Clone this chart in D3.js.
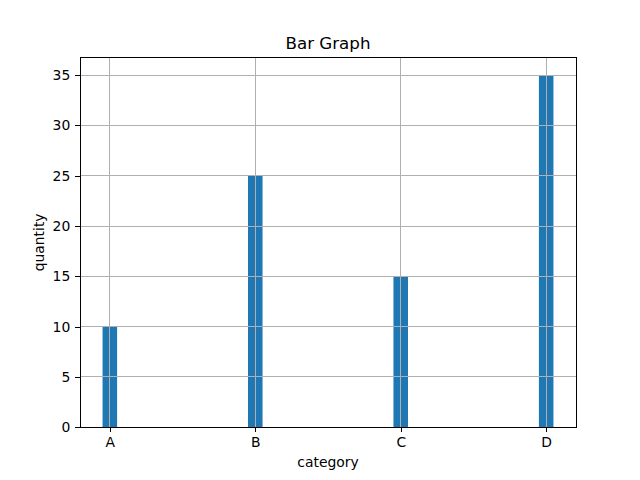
<!DOCTYPE html>
<html>
<head>
<meta charset="utf-8">
<script src="https://cdn.jsdelivr.net/npm/d3@7"></script>
<style>
  body { margin: 0; background: #fff; }
  text { font-family: "DejaVu Sans", sans-serif; fill: #000; }
</style>
</head>
<body>
<svg id="chart" width="640" height="480"></svg>
<script>
var categories = ["A", "B", "C", "D"];
var quantities = [10, 25, 15, 35];
var yTicks = [0, 5, 10, 15, 20, 25, 30, 35];

var svg = d3.select("svg#chart"),
	axLeft = 80, axRight = 576, axTop = 57.6, axBottom = 427.2;

var barW = 0.1;
var span = 3 + barW;
var x = d3.scaleLinear()
	.domain([-barW / 2 - span * 0.05, 3 + barW / 2 + span * 0.05])
	.range([axLeft, axRight]);
var y = d3.scaleLinear()
	.domain([0, 35 * 1.05])
	.range([axBottom, axTop]);

// bars
svg.append("g")
	.selectAll("rect")
	.data(quantities)
	.enter().append("rect")
	  .attr("x", function(d, i) { return x(i - barW / 2); })
	  .attr("y", function(d) { return y(d); })
	  .attr("width", function() { return x(barW) - x(0); })
	  .attr("height", function(d) { return y(0) - y(d); })
	  .attr("fill", "#1f77b4");

// grid on top of bars
var grid = svg.append("g").attr("stroke", "#b0b0b0").attr("stroke-width", 1)
	.attr("shape-rendering", "crispEdges");
grid.selectAll("line.gx")
	.data(categories)
	.enter().append("line")
	  .attr("x1", function(d, i) { return x(i); })
	  .attr("x2", function(d, i) { return x(i); })
	  .attr("y1", axTop).attr("y2", axBottom);
grid.selectAll("line.gy")
	.data(yTicks)
	.enter().append("line")
	  .attr("y1", function(d) { return y(d); })
	  .attr("y2", function(d) { return y(d); })
	  .attr("x1", axLeft).attr("x2", axRight);

// axes
var tickLen = 4.86, pad = 4.86;
var xAxis = d3.axisBottom(x)
	.tickValues(d3.range(categories.length))
	.tickFormat(function(i) { return categories[i]; })
	.tickSize(tickLen).tickPadding(pad);
var yAxis = d3.axisLeft(y)
	.tickValues(yTicks)
	.tickSize(tickLen).tickPadding(pad);

var gx = svg.append("g").attr("transform", "translate(0," + axBottom + ")").call(xAxis);
var gy = svg.append("g").attr("transform", "translate(" + axLeft + ",0)").call(yAxis);
[gx, gy].forEach(function(g) {
	g.select(".domain").remove();
	g.selectAll(".tick line").attr("stroke", "#000").attr("stroke-width", 1).attr("shape-rendering", "crispEdges");
	g.selectAll(".tick text").attr("font-size", "13.9px").attr("font-family", "DejaVu Sans").attr("fill", "#000");
});

// frame
svg.append("rect")
	.attr("x", axLeft).attr("y", axTop)
	.attr("width", axRight - axLeft).attr("height", axBottom - axTop)
	.attr("fill", "none").attr("stroke", "#000").attr("stroke-width", 1)
	.attr("shape-rendering", "crispEdges");

// labels
svg.append("text")
	.attr("x", (axLeft + axRight) / 2).attr("y", 49)
	.attr("text-anchor", "middle")
	.attr("font-size", "16.7px")
	.text("Bar Graph");
svg.append("text")
	.attr("x", (axLeft + axRight) / 2).attr("y", 467)
	.attr("text-anchor", "middle")
	.attr("font-size", "13.9px")
	.text("category");
svg.append("text")
	.attr("transform", "translate(44," + ((axTop + axBottom) / 2) + ") rotate(-90)")
	.attr("text-anchor", "middle")
	.attr("font-size", "13.9px")
	.text("quantity");
</script>
</body>
</html>
